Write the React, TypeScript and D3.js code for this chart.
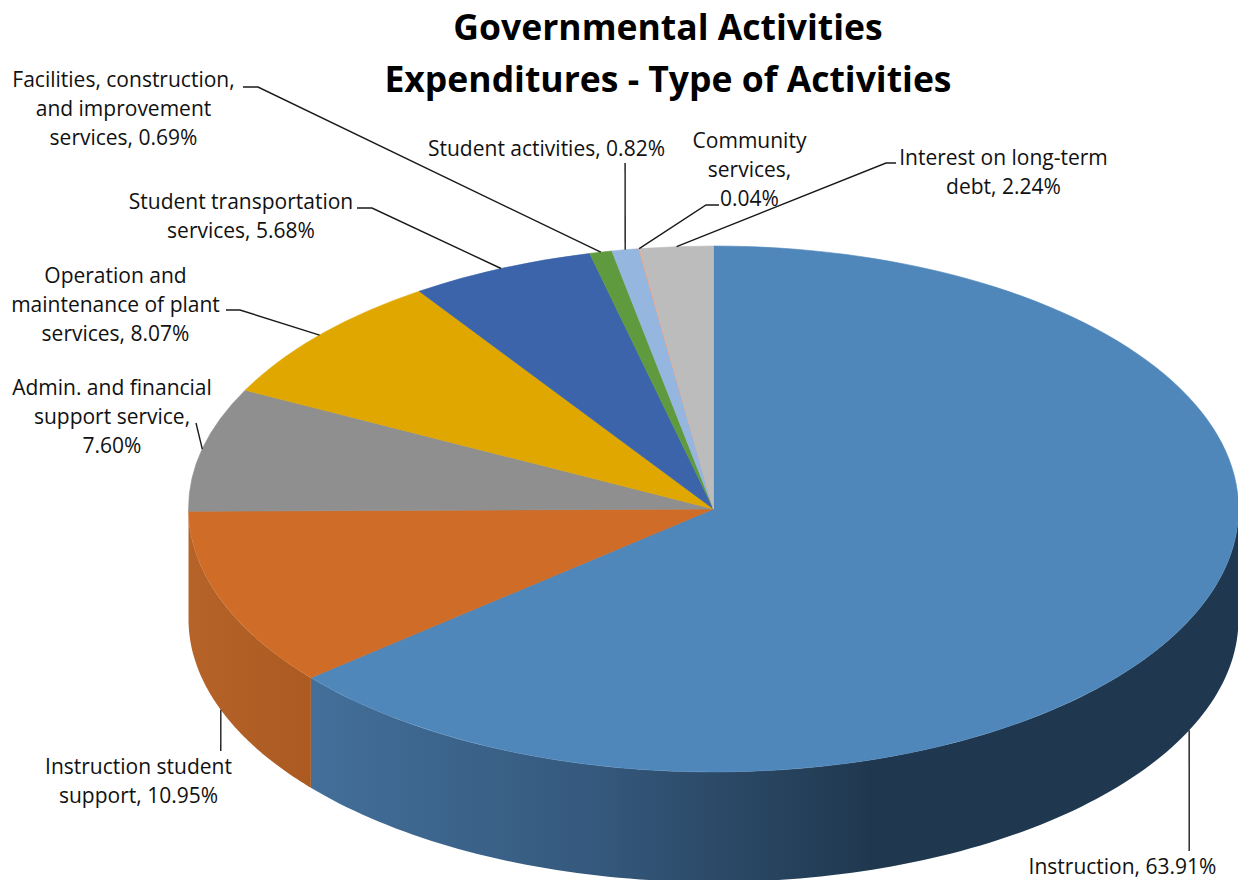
import React from "react";
import * as d3 from "d3";

// Share of governmental activities expenses, in drawing order (clockwise from 12 o'clock).
const categories = [
  "Instruction",
  "Instruction student support",
  "Admin. and financial support service",
  "Operation and maintenance of plant services",
  "Student transportation services",
  "Facilities, construction, and improvement services",
  "Student activities",
  "Community services",
  "Interest on long-term debt",
];
const shares = [63.91, 10.95, 7.6, 8.07, 5.68, 0.69, 0.82, 0.04, 2.24];
const topColors = ["#4f87ba", "#cf6c27", "#8f8f8f", "#e0a700", "#3b64aa", "#609a3e", "#95b6de", "#e8a48a", "#bcbcbc"];
const titleLines = ["Governmental Activities", "Expenditures - Type of Activities"];

// Wrapped label text for each slice.
const labelLines = [
  ["Instruction, 63.91%"],
  ["Instruction student", "support, 10.95%"],
  ["Admin. and financial", "support service,", "7.60%"],
  ["Operation and", "maintenance of plant", "services, 8.07%"],
  ["Student transportation", "services, 5.68%"],
  ["Facilities, construction,", "and improvement", "services, 0.69%"],
  ["Student activities, 0.82%"],
  ["Community", "services,", "0.04%"],
  ["Interest on long-term", "debt, 2.24%"],
];

// Label placement: text centre x, first baseline y, and the bends of each leader line.
const labelLayout = [
  { x: 1122.5, y: 874, bends: [[1189.2, 851]] },
  { x: 138.5, y: 774, bends: [[220.8, 751]] },
  { x: 112, y: 395, bends: [[196, 423]] },
  { x: 115.5, y: 283, bends: [[240, 310], [226, 310]] },
  { x: 241, y: 209, bends: [[372, 208], [357, 208]] },
  { x: 123.5, y: 87, bends: [[258, 87], [243, 87]] },
  { x: 546.5, y: 156, bends: [[625.1, 163]] },
  { x: 749.5, y: 148, bends: [[706, 205], [719, 205]] },
  { x: 1003.5, y: 165, bends: [[886, 163], [896, 163]] },
];

const WIDTH = 1238;
const HEIGHT = 880;
const CX = 713.5;
const CY = 509;
const RX = 525;
const RY = 263;
const DEPTH = 110;
const FONT = "'Open Sans', sans-serif";

const rim = (a: number, drop = 0): [number, number] => [
  CX + RX * Math.sin(a),
  CY - RY * Math.cos(a) + drop,
];

// Outer wall of a slice between two angles, clipped to the front half of the disc.
function wallPath(a0: number, a1: number) {
  const from = Math.max(a0, Math.PI / 2);
  const to = Math.min(a1, (3 * Math.PI) / 2);
  if (to <= from) return null;
  const steps = d3.range(0, 121).map((i) => from + ((to - from) * i) / 120);
  const area = d3
    .area<number>()
    .x((a) => rim(a)[0])
    .y0((a) => rim(a)[1])
    .y1((a) => rim(a, DEPTH)[1]);
  return area(steps);
}

export default function App() {
  const slices = d3.pie<number>().sort(null)(shares);
  const arc = d3.arc<d3.PieArcDatum<number>>().innerRadius(0).outerRadius(RX);
  const leader = d3.line();

  return (
    <svg
      width={WIDTH}
      height={HEIGHT}
      viewBox={`0 0 ${WIDTH} ${HEIGHT}`}
      style={{ position: "absolute", left: 0, top: 0, background: "#fff" }}
      fontFamily={FONT}
    >
      <defs>
        <linearGradient id="wall-instruction" gradientUnits="userSpaceOnUse" x1={311} x2={870} y1={0} y2={0}>
          <stop offset="0" stopColor="#436f9a" />
          <stop offset="0.5" stopColor="#35597d" />
          <stop offset="1" stopColor="#20384f" />
        </linearGradient>
        <linearGradient id="wall-support" gradientUnits="userSpaceOnUse" x1={188} x2={311} y1={0} y2={0}>
          <stop offset="0" stopColor="#b56329" />
          <stop offset="1" stopColor="#ab5a21" />
        </linearGradient>
      </defs>

      <path d={wallPath(slices[0].startAngle, slices[0].endAngle) ?? ""} fill="url(#wall-instruction)" />
      <path d={wallPath(slices[1].startAngle, slices[1].endAngle) ?? ""} fill="url(#wall-support)" />

      <g transform={`translate(${CX},${CY}) scale(1,${RY / RX})`}>
        {slices.map((s, i) => (
          <path
            key={categories[i]}
            d={arc(s) ?? ""}
            fill={topColors[i]}
            stroke={topColors[i]}
            strokeWidth={0.6}
            vectorEffect="non-scaling-stroke"
          />
        ))}
      </g>

      {slices.map((s, i) => {
        const mid = (s.startAngle + s.endAngle) / 2;
        const onWall = mid > Math.PI / 2 && mid < (3 * Math.PI) / 2;
        const start = rim(mid, onWall ? DEPTH : 0);
        const pts = [start, ...labelLayout[i].bends] as [number, number][];
        return <path key={i} d={leader(pts) ?? ""} fill="none" stroke="#1a1a1a" strokeWidth={1.4} />;
      })}

      {labelLines.map((lines, i) => (
        <text key={i} textAnchor="middle" fontSize={21} fill="#111">
          {lines.map((t, j) => (
            <tspan key={j} x={labelLayout[i].x} y={labelLayout[i].y + j * 29}>
              {t}
            </tspan>
          ))}
        </text>
      ))}

      <text textAnchor="middle" fontSize={35.5} fontWeight={700} fill="#000">
        {titleLines.map((t, j) => (
          <tspan key={j} x={668} y={40 + j * 52}>
            {t}
          </tspan>
        ))}
      </text>
    </svg>
  );
}
